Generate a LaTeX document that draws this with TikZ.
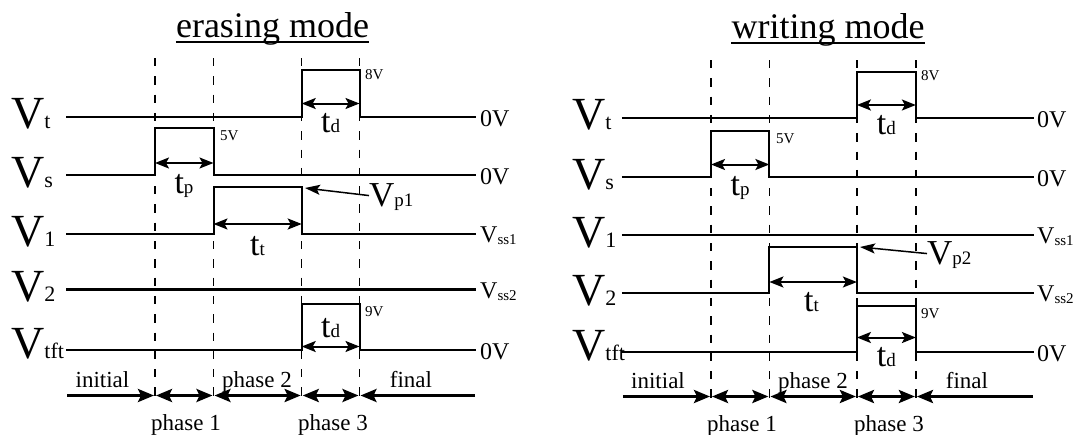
\documentclass[tikz,border=0pt]{standalone}
\usepackage{fontspec}
\setmainfont{Liberation Serif}
\usetikzlibrary{arrows.meta}
\newcommand\myfs[1]{\fontsize{#1}{#1}\selectfont}
\tikzset{
  phtip/.tip={Stealth[length=16pt,width=13pt,inset=3pt]},
  dimtip/.tip={Stealth[length=14pt,width=11pt,inset=3pt]},
  ptrtip/.tip={Stealth[length=15pt,width=10pt,inset=3pt]}
}
\begin{document}
\begin{tikzpicture}[x=1pt,y=-1pt,
  sig/.style={line width=2pt, line join=miter},
  gridln/.style={line width=1.4pt, dash pattern=on 8.3pt off 10pt},
  dimarr/.style={line width=2pt, {dimtip}-{dimtip}},
  ph/.style={line width=3pt, shorten >=1pt, shorten <=1pt},
  ptr/.style={line width=1.5pt, -{ptrtip}},
  lbl/.style={inner sep=0pt, anchor=base west},
  clbl/.style={inner sep=0pt, anchor=base},
  title/.style={inner sep=0pt, anchor=base, font=\myfs{36}},
  txt/.style={inner sep=0pt, anchor=base, font=\myfs{23}},
  volt/.style={inner sep=0pt, anchor=base west, font=\myfs{24}},
  small/.style={inner sep=0pt, anchor=base west, font=\myfs{15}}]
\useasboundingbox (0,0) rectangle (1074,434);

% ================= LEFT: erasing mode =================
\node[title] (Lti) at (272.5,37) {erasing mode};
\draw[line width=1.8pt] ([yshift=-5pt]Lti.base west) -- ([yshift=-5pt]Lti.base east);

\foreach \x in {155,213.5,301.7,359.5}
  \draw[gridln] (\x,58) -- (\x,404);

\draw[sig] (66,116.5) -- (301.7,116.5) -- (301.7,70) -- (359.5,70) -- (359.5,116.5) -- (476,116.5);
\draw[sig] (66,175) -- (155,175) -- (155,128) -- (213.5,128) -- (213.5,175) -- (476,175);
\draw[sig] (66,233.5) -- (213.5,233.5) -- (213.5,187) -- (301.7,187) -- (301.7,233.5) -- (476,233.5);
\draw[sig, line width=2.6pt] (66,289.5) -- (476,289.5);
\draw[sig] (66,350) -- (301.7,350) -- (301.7,304) -- (359.5,304) -- (359.5,350) -- (476,350);

\node[lbl] (LVt) at (11,128) {\myfs{46}V\myfs{22}t};
\node[lbl] (LVs) at (11,187) {\myfs{46}V\myfs{22}s};
\node[lbl] (LV1) at (11,246) {\myfs{46}V\myfs{22}1};
\node[lbl] (LV2) at (11,301.5) {\myfs{46}V\myfs{22}2};
\node[lbl] (LVtft) at (11,358) {\myfs{46}V\myfs{22}tft};

\node[volt] (Lr1) at (480,126) {0V};
\node[volt] (Lr2) at (480,184.5) {0V};
\node[volt] (Lr3) at (480,242) {V\raisebox{-2pt}{\myfs{15}ss1}};
\node[volt] (Lr4) at (480,298) {V\raisebox{-2pt}{\myfs{15}ss2}};
\node[volt] (Lr5) at (480,359.5) {0V};

\node[small] (L8) at (365,79) {8V};
\node[small] (L5) at (220,140) {5V};
\node[small] (L9) at (365,316.5) {9V};

\draw[dimarr] (301.7,103.5) -- (359.5,103.5);
\draw[dimarr] (155,163) -- (213.5,163);
\draw[dimarr] (213.5,224) -- (301.7,224);
\draw[dimarr] (301.7,346.5) -- (359.5,346.5);
\node[clbl] (Ltd1) at (330.6,132) {\myfs{34}t\myfs{19}d};
\node[clbl] (Ltp) at (184,193) {\myfs{34}t\myfs{19}p};
\node[clbl] (Ltt) at (257.6,255) {\myfs{34}t\myfs{19}t};
\node[clbl] (Ltd2) at (330.6,337) {\myfs{34}t\myfs{19}d};

\node[lbl] (LVp) at (369,206) {\myfs{35}V\myfs{19}p1};
\coordinate (LVpTip) at (305,188);
\draw[ptr] ([yshift=1pt]LVp.west) -- (LVpTip);

\draw[ph, -{phtip}] (66,395.5) -- (155,395.5);
\draw[ph, {phtip}-{phtip}] (155,395.5) -- (213.5,395.5);
\draw[ph, {phtip}-{phtip}] (213.5,395.5) -- (301.7,395.5);
\draw[ph, {phtip}-{phtip}] (301.7,395.5) -- (359.5,395.5);
\draw[ph, -{phtip}] (476,395.5) -- (359.5,395.5);

\node[txt] (Lini) at (102.5,387) {initial};
\node[txt] (Lp2) at (257,387) {phase 2};
\node[txt] (Lfin) at (411,387) {final};
\node[txt] (Lp1) at (186,430) {phase 1};
\node[txt] (Lp3) at (333,430) {phase 3};

% ================= RIGHT: writing mode =================
\node[title] (Rti) at (828,38) {writing mode};
\draw[line width=1.8pt] ([yshift=-5pt]Rti.base west) -- ([yshift=-5pt]Rti.base east);

\foreach \x in {711,769.4,856.9,915.9}
  \draw[gridln] (\x,60) -- (\x,405);

\draw[sig] (621.8,118) -- (856.9,118) -- (856.9,71.7) -- (915.9,71.7) -- (915.9,118) -- (1033.5,118);
\draw[sig] (621.8,177) -- (711,177) -- (711,131) -- (769.4,131) -- (769.4,177) -- (1033.5,177);
\draw[sig] (621.8,234.5) -- (1033.5,234.5);
\draw[sig] (621.8,293) -- (769.4,293) -- (769.4,247) -- (856.9,247) -- (856.9,293) -- (1033.5,293);
\draw[sig] (621.8,352) -- (856.9,352) -- (856.9,306) -- (915.9,306) -- (915.9,352) -- (1033.5,352);

\node[lbl] (RVt) at (572,129.5) {\myfs{46}V\myfs{22}t};
\node[lbl] (RVs) at (572,189) {\myfs{46}V\myfs{22}s};
\node[lbl] (RV1) at (572,247) {\myfs{46}V\myfs{22}1};
\node[lbl] (RV2) at (572,305) {\myfs{46}V\myfs{22}2};
\node[lbl] (RVtft) at (572,360) {\myfs{46}V\myfs{22}tft};

\node[volt] (Rr1) at (1037,127.5) {0V};
\node[volt] (Rr2) at (1037,186.5) {0V};
\node[volt] (Rr3) at (1037,243) {V\raisebox{-2pt}{\myfs{15}ss1}};
\node[volt] (Rr4) at (1037,301.5) {V\raisebox{-2pt}{\myfs{15}ss2}};
\node[volt] (Rr5) at (1037,361.5) {0V};

\node[small] (R8) at (921,80.5) {8V};
\node[small] (R5) at (776,143) {5V};
\node[small] (R9) at (921,318) {9V};

\draw[dimarr] (856.9,105) -- (915.9,105);
\draw[dimarr] (711,164.5) -- (769.4,164.5);
\draw[dimarr] (769.4,282) -- (856.9,282);
\draw[dimarr] (856.9,337.5) -- (915.9,337.5);
\node[clbl] (Rtd1) at (886.4,134) {\myfs{34}t\myfs{19}d};
\node[clbl] (Rtp) at (740.2,195) {\myfs{34}t\myfs{19}p};
\node[clbl] (Rtt) at (811.5,311) {\myfs{34}t\myfs{19}t};
\node[clbl] (Rtd2) at (886.4,366.5) {\myfs{34}t\myfs{19}d};

\node[lbl] (RVp) at (927,264) {\myfs{35}V\myfs{19}p2};
\coordinate (RVpTip) at (860,247);
\draw[ptr] ([yshift=1pt]RVp.west) -- (RVpTip);

\draw[ph, -{phtip}] (621.8,396.5) -- (711,396.5);
\draw[ph, {phtip}-{phtip}] (711,396.5) -- (769.4,396.5);
\draw[ph, {phtip}-{phtip}] (769.4,396.5) -- (856.9,396.5);
\draw[ph, {phtip}-{phtip}] (856.9,396.5) -- (915.9,396.5);
\draw[ph, -{phtip}] (1033.5,396.5) -- (915.9,396.5);

\node[txt] (Rini) at (658,388.5) {initial};
\node[txt] (Rp2) at (813,388.5) {phase 2};
\node[txt] (Rfin) at (967,388.5) {final};
\node[txt] (Rp1) at (742,431) {phase 1};
\node[txt] (Rp3) at (889,431) {phase 3};
\end{tikzpicture}
\end{document}
